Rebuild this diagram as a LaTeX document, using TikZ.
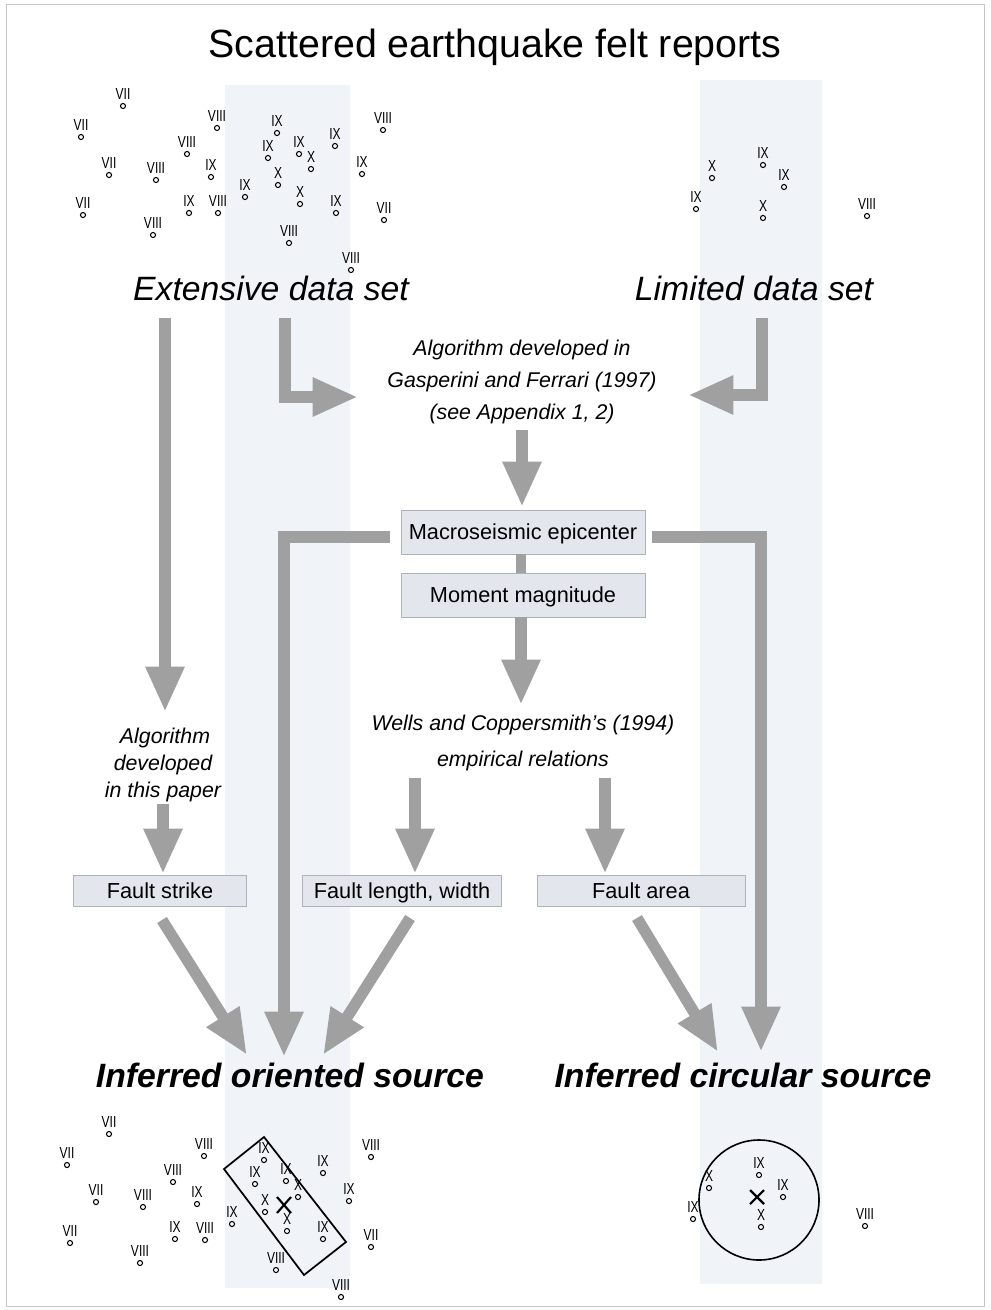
\documentclass[tikz,border=0pt]{standalone}
\usepackage{fontspec}
\setmainfont{Liberation Sans}
\usetikzlibrary{arrows.meta}
\definecolor{arrowgray}{RGB}{160,160,160}
\definecolor{boxfill}{RGB}{228,230,237}
\definecolor{boxline}{RGB}{175,178,185}
\definecolor{colfill}{RGB}{240,243,248}
\tikzset{
  bigarrow/.style={draw=arrowgray, line width=8.5pt, line join=miter,
    -{Triangle[width=27pt,length=34pt]}},
  barline/.style={draw=arrowgray, line width=8pt},
  infobox/.style={draw=boxline, fill=boxfill, line width=0.6pt, inner sep=0pt,
    text height=11.7pt, text depth=0pt,
    font=\fontsize{16.3}{19}\selectfont},
  itext/.style={font=\fontsize{16}{19}\selectfont\itshape, anchor=base, inner sep=0pt},
  dset/.style={font=\fontsize{25.3}{30}\selectfont\itshape, anchor=base, inner sep=0pt},
  src/.style={font=\fontsize{25.3}{30}\selectfont\bfseries\itshape, anchor=base, inner sep=0pt},
  dotn/.style={circle, draw=black, fill=white, inner sep=0pt, minimum size=3.8pt, line width=0.8pt},
  numl/.style={inner sep=0pt, font=\fontsize{12}{13}\selectfont},
}
\newcommand\narrow[1]{\scalebox{0.75}[1]{#1}}
\begin{document}
\begin{tikzpicture}[x=0.75pt,y=-0.75pt]
\useasboundingbox (0,0) rectangle (990,1310);
\fill[white] (0,0) rectangle (990,1310);
% faint background columns
\fill[colfill] (225,85) rectangle (350,1288);
\fill[colfill] (700,80) rectangle (822,1284);
\draw[gray!45, line width=0.5pt] (6,4) rectangle (984,1306);

% title and labels
\node[anchor=base, inner sep=0pt, font=\fontsize{29.5}{34}\selectfont] (title) at (495,57) {Scattered earthquake felt reports};
\node[dset] (ext) at (271,300) {Extensive data set};
\node[dset] (lim) at (754,300) {Limited data set};
\node[itext] (alg1) at (522,355) {Algorithm developed in};
\node[itext] (alg2) at (522,387) {Gasperini and Ferrari (1997)};
\node[itext] (alg3) at (522,419) {(see Appendix 1, 2)};
\node[infobox, minimum width=183pt, minimum height=33pt] (epic) at (523,532) {Macroseismic epicenter};
\node[infobox, minimum width=183pt, minimum height=33pt] (mom) at (523,595) {Moment magnitude};
\node[itext] (wc1) at (523,730) {Wells and Coppersmith's (1994)};
\node[itext] (wc2) at (523,766) {empirical relations};
\node[itext] (ap1) at (165,743) {Algorithm};
\node[itext] (ap2) at (163,770) {developed};
\node[itext] (ap3) at (163,797) {in this paper};
\node[infobox, minimum width=130pt, minimum height=23pt] (strike) at (160,891) {Fault strike};
\node[infobox, minimum width=149pt, minimum height=23pt] (length) at (402,891) {Fault length, width};
\node[infobox, minimum width=156pt, minimum height=23pt] (area) at (641,891) {Fault area};
\node[src] (ori) at (290,1087) {Inferred oriented source};
\node[src] (circ) at (743,1087) {Inferred circular source};

% connector end points
\coordinate (a1s) at (285,318); \coordinate (a1e) at (358,397);
\coordinate (a2s) at (762,318); \coordinate (a2e) at (688,395);
\coordinate (a3s) at (522,430); \coordinate (a3e) at (522,507);
\coordinate (a5e) at (521,705);
\coordinate (a6s) at (390,537); \coordinate (a6e) at (284,1057);
\coordinate (a7s) at (652,537); \coordinate (a7e) at (761,1052);
\coordinate (a8s) at (165,318); \coordinate (a8e) at (165,712);
\coordinate (a9s) at (163,804); \coordinate (a9e) at (163,874);
\coordinate (a10s) at (415,778); \coordinate (a10e) at (415,874);
\coordinate (a11s) at (605,778); \coordinate (a11e) at (605,874);
\coordinate (a12s) at (162,920); \coordinate (a12e) at (247,1055);
\coordinate (a13s) at (410,918); \coordinate (a13e) at (323,1055);
\coordinate (a14s) at (637,918); \coordinate (a14e) at (718,1052);

% arrows
\draw[bigarrow] (a1s) |- (a1e);
\draw[bigarrow] (a2s) |- (a2e);
\draw[bigarrow] (a3s) -- (a3e);
\draw[barline] ([xshift=-1.5pt]epic.south) -- ([xshift=-1.5pt]mom.north);
\draw[bigarrow] ([xshift=-1.5pt]mom.south) -- (a5e);
\draw[bigarrow] (a6s) -| (a6e);
\draw[bigarrow] (a7s) -| (a7e);
\draw[bigarrow] (a8s) -- (a8e);
\draw[bigarrow] (a9s) -- (a9e);
\draw[bigarrow] (a10s) -- (a10e);
\draw[bigarrow] (a11s) -- (a11e);
\draw[bigarrow] (a12s) -- (a12e);
\draw[bigarrow] (a13s) -- (a13e);
\draw[bigarrow] (a14s) -- (a14e);

% oriented source rectangle and circle
\draw[line width=1.3pt, line join=miter] (264,1137) -- (346,1242) -- (304,1275) -- (224,1169) -- cycle;
\draw[line width=1.6pt] (277,1197) -- (291,1213) (277,1213) -- (291,1197);
\draw[line width=1.2pt] (759,1200) circle (60);
\draw[line width=1.6pt] (750,1190) -- (764,1204) (750,1204) -- (764,1190);

% scatter points
\foreach \x/\y/\t [count=\i] in {
123/106/VII, 81/137/VII, 217/128/VIII, 277/133/IX, 383/130/VIII, 335/146/IX,
187/154/VIII, 268/158/IX, 299/154/IX, 311/169/X, 362/174/IX, 109/175/VII,
156/180/VIII, 211/177/IX, 278/185/X, 245/197/IX, 300/204/X, 336/213/IX,
83/215/VII, 189/213/IX, 218/213/VIII, 384/220/VII, 153/235/VIII, 289/243/VIII,
351/270/VIII,
712/178/X, 763/165/IX, 784/187/IX, 696/209/IX, 763/218/X, 867/216/VIII,
109/1134/VII, 67/1165/VII, 204/1156/VIII, 264/1160/IX, 371/1157/VIII, 323/1173/IX,
173/1182/VIII, 255/1184/IX, 286/1181/IX, 298/1197/X, 349/1201/IX, 96/1202/VII,
143/1207/VIII, 197/1204/IX, 265/1212/X, 232/1224/IX, 287/1231/X, 323/1239/IX,
70/1243/VII, 175/1239/IX, 205/1240/VIII, 371/1247/VII, 140/1263/VIII, 276/1270/VIII,
341/1297/VIII,
759/1175/IX, 709/1188/X, 783/1197/IX, 693/1219/IX, 761/1227/X, 865/1226/VIII}
{
  \node[dotn] (d\i) at (\x,\y) {};
  \node[numl] (l\i) at (\x,\y-12.5) {\narrow{\t}};
}
\end{tikzpicture}
\end{document}
